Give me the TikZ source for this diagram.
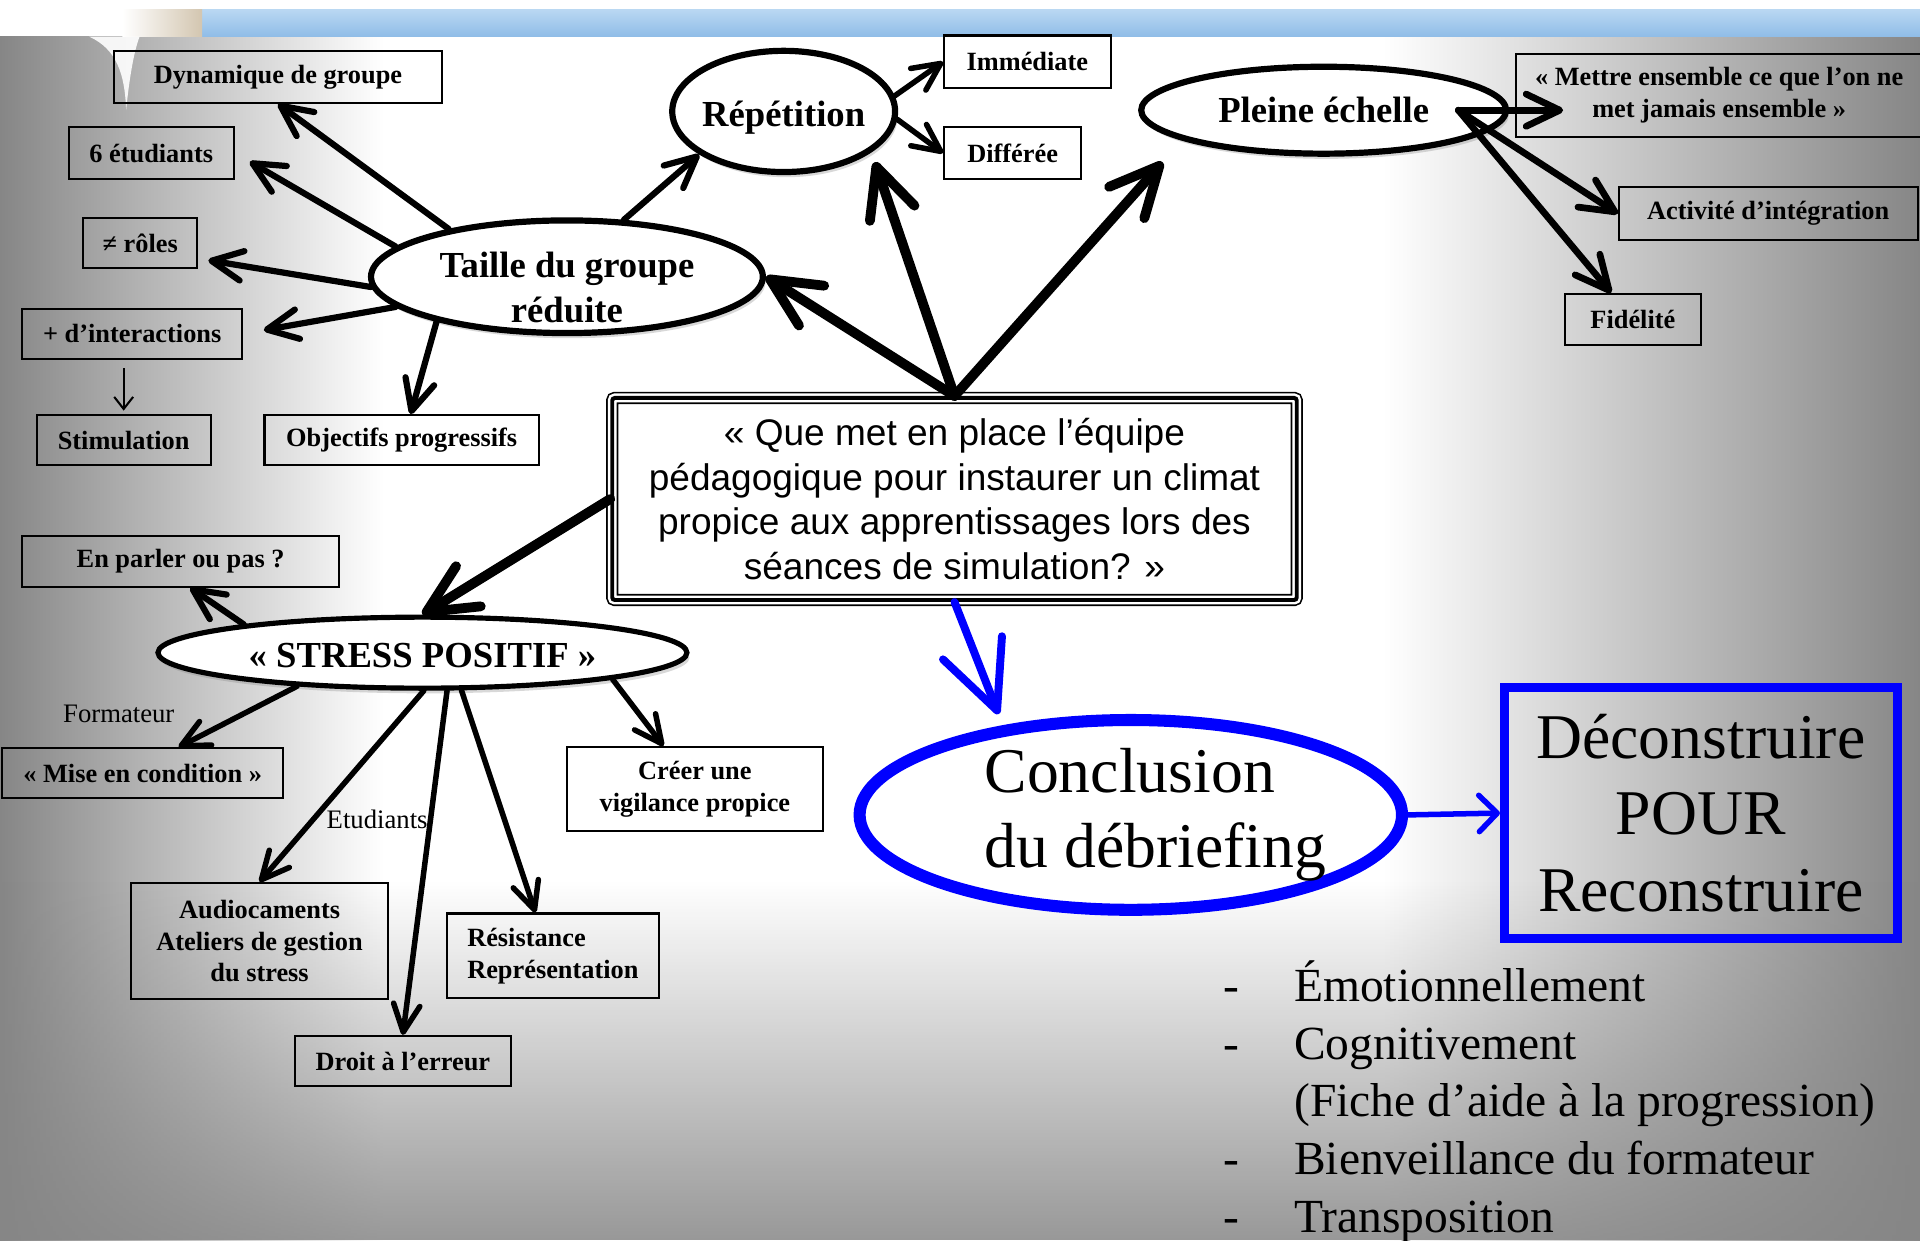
\documentclass[tikz,border=0pt]{standalone}
\usepackage{fontspec}
\setmainfont{Liberation Serif}
\setsansfont{Liberation Sans}
\usetikzlibrary{arrows.meta,shapes.geometric,shadows,calc,fadings}

\definecolor{slidegray}{HTML}{868686}
\definecolor{bandtop}{HTML}{B9D7F2}
\definecolor{bandbot}{HTML}{8FBCE7}
\definecolor{beige}{HTML}{D3C6B0}
\definecolor{deepblue}{HTML}{0000FF}

% only the middle 25bp--75bp band of a shading lands on the path
\pgfdeclarehorizontalshading{slideh}{100bp}{color(0bp)=(slidegray); color(25bp)=(slidegray); color(29.5bp)=(slidegray!55!white); color(35bp)=(white); color(61bp)=(white); color(68bp)=(slidegray!50!white); color(75bp)=(slidegray); color(100bp)=(slidegray)}
\tikzfading[name=fade up, top color=transparent!100, bottom color=transparent!15]

\def\pxu{0.025}
\tikzset{
  tbox/.style n args={2}{
    rectangle, draw, line width=1.2pt,
    inner sep=0pt,
    minimum width=#1*\pxu cm,
    minimum height=#2*\pxu cm,
    align=center,
    font=\bfseries\fontsize{15.3}{18.5}\selectfont
  },
  bubble/.style n args={2}{
    ellipse, draw, line width=3.6pt,
    fill=white, inner sep=0pt,
    minimum width=#1*\pxu cm,
    minimum height=#2*\pxu cm,
    drop shadow={opacity=.3, shadow xshift=1.5pt, shadow yshift=-3pt}
  },
  bubblelabel/.style={
    font=\bfseries\fontsize{21.3}{25.6}\selectfont,
    align=center, inner sep=0pt
  },
  note/.style={font=\fontsize{15.5}{18}\selectfont, inner sep=0pt}
}
\tikzset{
  qbox/.style={
    rectangle, rounded corners=1.5pt, inner sep=0pt,
    minimum width=559*\pxu cm, minimum height=165*\pxu cm,
    preaction={fill=white},
    preaction={draw, line width=7.1pt},
    preaction={draw, white, line width=5.2pt},
    draw, line width=2.3pt,
    align=center,
    font=\sffamily\fontsize{21.5}{26}\selectfont
  },
  endbubble/.style={
    ellipse, draw=deepblue, line width=7pt,
    fill=white, inner sep=0pt,
    minimum width=443*\pxu cm, minimum height=155*\pxu cm,
    drop shadow={opacity=.3, shadow xshift=1.5pt, shadow yshift=-3pt}
  },
  endbox/.style={
    rectangle, draw=deepblue, line width=5pt,
    inner sep=0pt,
    minimum width=321*\pxu cm, minimum height=205*\pxu cm,
    align=center,
    font=\fontsize{37}{44.5}\selectfont
  },
  link/.style={
    -{Straight Barb[length=0pt 5, width=0pt 4.8, round]},
    line width=#1, line cap=round
  },
  bluelink/.style={
    -{Straight Barb[length=0pt 8.5, width=0pt 8, round]},
    deepblue, line width=#1, line cap=round
  }
}

\begin{document}
\begin{tikzpicture}[x=\pxu cm, y=-\pxu cm]
    \useasboundingbox (0,0) rectangle (1568,1013);

    %% Slide background
    \fill[white] (0,0) rectangle (1568,1013);
    \shade[shading=slideh] (0,30) rectangle (1568,1013);
    \fill[slidegray, path fading=fade up] (0,720) rectangle (1568,1013);
    \shade[top color=bandtop, bottom color=bandbot] (165,8) rectangle (1568,30);
    \shade[left color=white, right color=beige] (100,8) rectangle (165,30);
    \fill[white, opacity=.9] (73,30) .. controls (95,40) and (102,60) .. (103,90) .. controls (106,60) and (110,40) .. (114,30) -- cycle;

    %% Question
    \node[qbox] (q) at (779.5,407.5) {« Que met en place l’équipe\\pédagogique pour instaurer un climat\\propice aux apprentissages lors des\\séances de simulation? »};

    %% Group size
    \node[bubble={320}{92}, label={[bubblelabel, yshift=-0.22cm]center:Taille du groupe\\réduite}] (taille) at (463,226) {};
    \node[tbox={268}{42}] (dyn) at (227,63) {Dynamique de groupe};
    \node[tbox={135}{42}] (six) at (123.5,125) {6 étudiants};
    \node[tbox={93}{41}] (roles) at (114.5,198.5) {≠ rôles};
    \node[tbox={180}{41}] (inter) at (108,272.5) {+ d’interactions};
    \node[tbox={142}{41}, below of=inter, node distance=87*\pxu cm, xshift=-7*\pxu cm] (stim) {Stimulation};
    \node[tbox={224}{41}, right of=stim, node distance=227*\pxu cm] (obj) {Objectifs progressifs};

    %% Repetition
    \node[bubble={182}{99}, label={[bubblelabel, yshift=-0.12cm]center:Répétition}] (rep) at (640,91) {};
    \node[tbox={136}{43}] (imm) at (839,50.5) {Immédiate};
    \node[tbox={112}{42}] (diff) at (827,125) {Différée};

    %% Full scale
    \node[bubble={298}{71}, label={[bubblelabel]center:Pleine échelle}] (pleine) at (1081,90) {};
    \node[tbox={332}{68}] (mettre) at (1404,78) {« Mettre ensemble ce que l’on ne\\met jamais ensemble »};
    \node[tbox={244}{43}] (activ) at (1444,174.5) {Activité d’intégration};
    \node[tbox={111}{42}] (fid) at (1333.5,261) {Fidélité};
    \coordinate (plhub) at (1191,90);

    %% Positive stress
    \node[bubble={432}{58}, line width=3pt, label={[bubblelabel, yshift=-0.06cm]center:« STRESS POSITIF »}] (stress) at (345,533) {};
    \node[tbox={259}{41}] (parler) at (147.5,458.5) {En parler ou pas ?};
    \node[tbox={229}{41}] (mise) at (116.5,631.5) {« Mise en condition »};
    \node[tbox={209}{69}] (creer) at (567.5,644.5) {Créer une\\vigilance propice};
    \node[tbox={210}{95}] (audio) at (212,768.5) {Audiocaments\\Ateliers de gestion\\du stress};
    \node[tbox={173}{69}, align=left] (resist) at (451.5,780.5) {Résistance\\Représentation};
    \node[tbox={176}{41}] (droit) at (329,866.5) {Droit à l’erreur};
    \node[note] (formlbl) at (97,583) {Formateur};
    \node[note] (etulbl) at (308,669) {Etudiants};

    %% Conclusion
    \node[endbubble, label={[font=\fontsize{37}{43.5}\selectfont, align=left, xshift=0.5cm]center:Conclusion\\du débriefing}] (concl) at (923.5,665.5) {};
    \node[endbox] (decon) at (1389,664) {Déconstruire\\POUR\\Reconstruire};
    \node[anchor=north west, inner sep=0pt, font=\fontsize{27.6}{33.6}\selectfont] (gains) at (999,784) {%
      \begin{tabular}{@{}p{41pt}@{}l@{}}
        - & Émotionnellement\\
        - & Cognitivement\\
          & (Fiche d’aide à la progression)\\
        - & Bienveillance du formateur\\
        - & Transposition
      \end{tabular}};

    %% Edges from the question
    \draw[link=5.7pt] (q.north) -- (taille.east);
    \draw[link=5.7pt, shorten >=6pt] (q.north) -- (rep.-25);
    \draw[link=5.7pt, shorten >=17pt] (q.north) -- (pleine.192);
    \draw[link=5.7pt] (q.west) -- (stress.north);
    \draw[bluelink=4.6pt, shorten >=7pt] (q.south) -- (concl.145);
    \draw[-{Straight Barb[length=0pt 3.3, width=0pt 6.6, round]}, deepblue, line width=3.2pt] (concl.east) -- (decon.west);

    %% Group size edges
    \draw[link=3.6pt] (taille.158) -- (dyn.south);
    \draw[link=3.6pt, shorten >=10pt] (taille.170) -- (six.east);
    \draw[link=3.6pt, shorten >=6pt] (taille.183) -- (roles.-15);
    \draw[link=3.6pt, shorten >=12pt] (taille.190) -- (inter.east);
    \draw[link=3.6pt] (taille.199) -- (obj.71);
    \draw[link=3.6pt] (taille.45) -- (rep.207);
    \draw[-{Straight Barb[length=7pt, width=11pt]}, line width=1.2pt, shorten <=5pt, shorten >=2pt] (inter.south -| stim.north) -- (stim.north);

    %% Repetition and full scale edges
    \draw[link=3.2pt] (rep.8) -- (imm.west);
    \draw[link=3.2pt] (rep.-4) -- (diff.west);
    \draw[link=3.9pt, shorten >=-28pt] (plhub) -- (plhub -| mettre.west);
    \draw[link=3.9pt] (plhub) -- (activ.west);
    \draw[link=3.9pt] (plhub) -- (fid.129);

    %% Stress edges
    \draw[link=3.6pt] (stress.171) -- (parler.-70);
    \draw[link=3.2pt] (stress.195) -- (mise.36);
    \draw[link=3.2pt] (stress.-88) -- (audio.north);
    \draw[link=3.2pt] (stress.-57) -- (droit.north);
    \draw[link=3.2pt] (stress.-44) -- (resist.112);
    \draw[link=3.2pt] (stress.-8) -- (creer.126);

\end{tikzpicture}
\end{document}
